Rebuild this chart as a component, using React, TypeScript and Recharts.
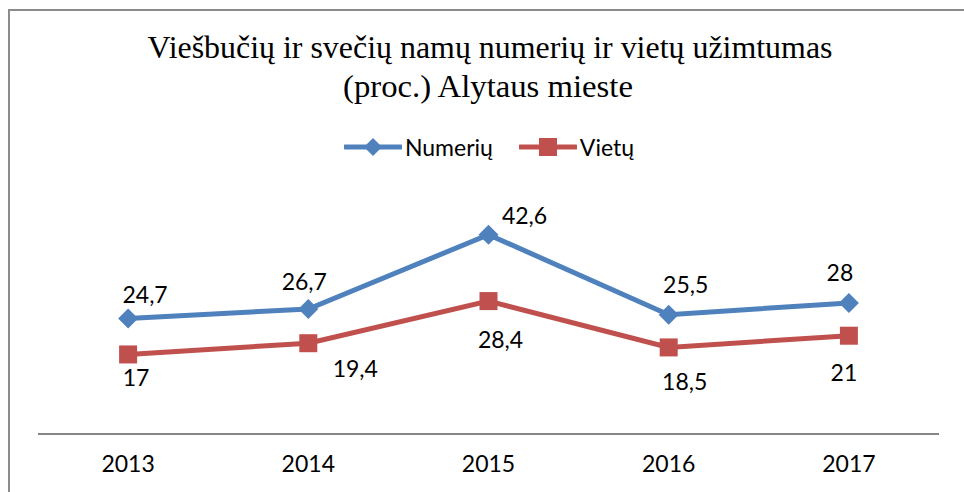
import React from 'react';
import { LineChart, Line, XAxis, YAxis, LabelList } from 'recharts';

const years = ['2013', '2014', '2015', '2016', '2017'];
const numeriu = [24.7, 26.7, 42.6, 25.5, 28];
const vietu = [17, 19.4, 28.4, 18.5, 21];

const titleLines = [
  'Viešbučių ir svečių namų numerių ir vietų užimtumas',
  '(proc.) Alytaus mieste',
];

// label nudges (Excel placed them by hand-ish)
const numeriuLabelShift = [[17, -24], [-4, -28], [36, -20], [17, -31], [-9, -31]];
const vietuLabelShift = [[8, 23], [47, 25], [12, 38], [16, 34], [-5, 36]];

const BLUE = '#4F81BD';
const RED = '#C0504D';
const FONT = 'Lato, "Open Sans", sans-serif';

const data = years.map((year, i) => ({ year, numeriu: numeriu[i], vietu: vietu[i] }));

const fmt = (v: number) => String(v).replace('.', ',');

const Diamond = ({ cx, cy, size, color }: any) => (
  <path d={`M${cx},${cy - size} L${cx + size},${cy} L${cx},${cy + size} L${cx - size},${cy} Z`} fill={color} />
);

const Square = ({ cx, cy, size, color }: any) => (
  <rect x={cx - size} y={cy - size} width={size * 2} height={size * 2} fill={color} />
);

const makeLabel = (shift: number[][]) => (props: any) => {
  const { x, y, value, index } = props;
  const [dx, dy] = shift[index] || [0, 0];
  return (
    <text
      x={x + dx}
      y={y + dy}
      textAnchor="middle"
      dominantBaseline="central"
      fontFamily={FONT}
      fontSize={23}
      fill="#000"
    >
      {fmt(value)}
    </text>
  );
};

const legendItems = [
  { name: 'Numerių', color: BLUE, marker: 'diamond' },
  { name: 'Vietų', color: RED, marker: 'square' },
];

export default function App() {
  return (
    <div style={{ position: 'absolute', left: 0, top: 0, width: 964, height: 492, background: '#fff', overflow: 'hidden' }}>
      <div
        style={{
          position: 'absolute',
          left: 8,
          top: 9,
          width: 1000,
          height: 1000,
          borderLeft: '2px solid #8c8c8c',
          borderTop: '2px solid #8c8c8c',
        }}
      />

      <svg width={964} height={120} style={{ position: 'absolute', left: 0, top: 0 }}>
        <text x={490} y={58} textAnchor="middle" fontFamily='"Liberation Serif", serif' fontSize={31}
          textLength={685} lengthAdjust="spacingAndGlyphs">
          {titleLines[0]}
        </text>
        <text x={488} y={97} textAnchor="middle" fontFamily='"Liberation Serif", serif' fontSize={31}
          textLength={290} lengthAdjust="spacingAndGlyphs">
          {titleLines[1]}
        </text>
      </svg>

      {/* legend */}
      <div style={{ position: 'absolute', left: 0, top: 133, width: 964, display: 'flex', justifyContent: 'center', paddingLeft: 14, boxSizing: 'border-box' }}>
        {legendItems.map((it, i) => (
          <div key={it.name} style={{ display: 'flex', alignItems: 'center', marginLeft: i ? 26 : 0 }}>
            <svg width={58} height={28}>
              <line x1={1} y1={14} x2={57} y2={14} stroke={it.color} strokeWidth={5} strokeLinecap="round" />
              {it.marker === 'diamond' ? (
                <Diamond cx={29} cy={14} size={9} color={it.color} />
              ) : (
                <Square cx={29} cy={14} size={9} color={it.color} />
              )}
            </svg>
            <span style={{ fontFamily: FONT, fontSize: 23, color: '#000', marginLeft: 3 }}>{it.name}</span>
          </div>
        ))}
      </div>

      <LineChart
        width={964}
        height={492}
        data={data}
        margin={{ top: 200, right: 25, bottom: 18, left: 38 }}
        style={{ position: 'absolute', left: 0, top: 0 }}
      >
        <XAxis
          dataKey="year"
          scale="band"
          height={40}
          axisLine={{ stroke: '#868686', strokeWidth: 2 }}
          tickLine={false}
          tickMargin={16}
          tick={{ fill: '#000', fontSize: 23, fontFamily: FONT }}
        />
        <YAxis hide domain={[0, 50]} />
        <Line
          dataKey="numeriu"
          stroke={BLUE}
          strokeWidth={5}
          isAnimationActive={false}
          dot={(p: any) => <Diamond key={`n${p.index}`} cx={p.cx} cy={p.cy} size={10} color={BLUE} />}
          activeDot={false}
        >
          <LabelList dataKey="numeriu" content={makeLabel(numeriuLabelShift)} />
        </Line>
        <Line
          dataKey="vietu"
          stroke={RED}
          strokeWidth={5}
          isAnimationActive={false}
          dot={(p: any) => <Square key={`v${p.index}`} cx={p.cx} cy={p.cy} size={9} color={RED} />}
          activeDot={false}
        >
          <LabelList dataKey="vietu" content={makeLabel(vietuLabelShift)} />
        </Line>
      </LineChart>
    </div>
  );
}
